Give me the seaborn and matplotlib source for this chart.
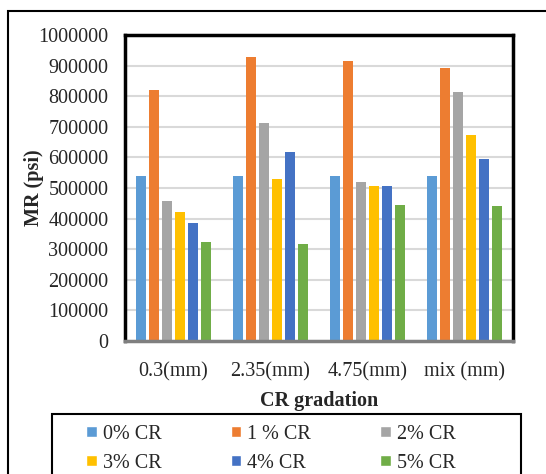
import pandas as pd
import seaborn as sns
import matplotlib.pyplot as plt
from matplotlib.patches import Rectangle
from matplotlib.ticker import StrMethodFormatter

gradations = ["0.3(mm)", "2.35(mm)", "4.75(mm)", "mix (mm)"]
cr_levels = ["0% CR", "1 % CR", "2% CR", "3% CR", "4% CR", "5% CR"]
mr_0 = [540000, 540000, 540000, 540000]
mr_1 = [820000, 928000, 915000, 893000]
mr_2 = [458000, 714000, 520000, 813000]
mr_3 = [420000, 530000, 508000, 673000]
mr_4 = [385000, 617000, 505000, 596000]
mr_5 = [325000, 318000, 445000, 442000]
colors = ["#5B9BD5", "#ED7D31", "#A5A5A5", "#FFC000", "#4472C4", "#70AD47"]

rows = []
for level, vals in zip(cr_levels, [mr_0, mr_1, mr_2, mr_3, mr_4, mr_5]):
    for g, v in zip(gradations, vals):
        rows.append({"gradation": g, "level": level, "MR": v})
df = pd.DataFrame(rows)

sns.set_style("white")
plt.rcParams["font.family"] = ["Liberation Serif", "DejaVu Serif"]
fs = 14.5

fig = plt.figure(figsize=(5.46, 4.74), dpi=100)
ax = fig.add_axes([125 / 546, 1 - 341 / 474, 388 / 546, 306 / 474])

sns.barplot(data=df, x="gradation", y="MR", hue="level", palette=colors,
            order=gradations, hue_order=cr_levels, width=0.8, gap=0.25,
            saturation=1, linewidth=0, ax=ax, legend=False)

ax.set_ylim(0, 1000000)
ax.set_yticks(range(0, 1000001, 100000))
ax.yaxis.set_major_formatter(StrMethodFormatter("{x:.0f}"))
ax.yaxis.grid(True, color="#d9d9d9", linewidth=1.5)
ax.set_axisbelow(True)
ax.tick_params(axis="y", labelsize=fs, length=0, pad=12, colors="#262626")
ax.tick_params(axis="x", labelsize=fs, length=0, pad=15, colors="#262626")
ax.set_ylabel("MR (psi)", fontsize=fs, fontweight="bold")
ax.yaxis.set_label_coords((44 - 125) / 388, 0.5)
ax.set_xlabel("CR gradation", fontsize=fs, fontweight="bold", labelpad=7)
for side in ["left", "top", "right"]:
    ax.spines[side].set_color("black")
    ax.spines[side].set_linewidth(2.5)
ax.spines["bottom"].set_color("#7f7f7f")
ax.spines["bottom"].set_linewidth(2.5)

# outer chart frame
fig.patches.append(Rectangle((8 / 546, -0.05), 1.2, 1 - 11 / 474 + 0.05,
                             transform=fig.transFigure, fill=False,
                             edgecolor="black", linewidth=1.5))
# legend frame
fig.patches.append(Rectangle((52 / 546, -0.05), (521 - 52) / 546, 1 - 414 / 474 + 0.05,
                             transform=fig.transFigure, fill=False,
                             edgecolor="black", linewidth=1.5))

handles = [Rectangle((0, 0), 1, 1, facecolor=c) for c in colors]
order = [0, 3, 1, 4, 2, 5]
fig.legend([handles[i] for i in order], [cr_levels[i] for i in order],
           loc="upper left", ncol=3, mode="expand",
           bbox_to_anchor=(76 / 546, 1 - 415 / 474, (466 - 76) / 546, 0.001),
           frameon=False, fontsize=fs, handlelength=0.53, handleheight=0.53,
           handletextpad=0.3, borderpad=0, labelspacing=0.5)

fig.savefig("out.png", dpi=100)
